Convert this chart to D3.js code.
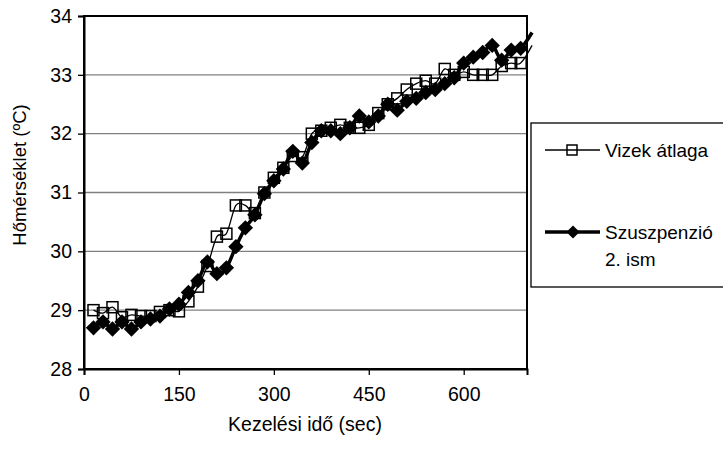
<!DOCTYPE html>
<html>
<head>
<meta charset="utf-8">
<script src="https://cdn.jsdelivr.net/npm/d3@7"></script>
<style>
  html, body { margin: 0; padding: 0; background: #fff; }
  svg { display: block; font-family: "Liberation Sans", Arial, sans-serif; }
</style>
</head>
<body>
<svg id="chart" width="723" height="450"></svg>
<script>
// Measurement times (sec)
const times = [15, 30, 45, 60, 75, 90, 105, 120, 135, 150, 165, 180, 195, 210, 225, 240,
  255, 270, 285, 300, 315, 330, 345, 360, 375, 390, 405, 420, 435, 450, 465, 480,
  495, 510, 525, 540, 555, 570, 585, 600, 615, 630, 645, 660, 675, 690, 708];

// Average of the water samples (°C)
const vizekAtlaga = [29.0, 28.95, 29.05, 28.88, 28.92, 28.9, 28.9, 28.97, 29.0, 28.98,
  29.15, 29.4, 29.75, 30.25, 30.3, 30.78, 30.78, 30.65, 31.0, 31.25, 31.42, 31.62,
  31.6, 32.0, 32.05, 32.1, 32.15, 32.1, 32.1, 32.15, 32.35, 32.5, 32.6, 32.75, 32.85,
  32.9, 32.85, 33.1, 33.0, 33.05, 33.0, 33.0, 33.0, 33.15, 33.2, 33.2, 33.5];

// Suspension, 2nd repetition (°C)
const szuszpenzio = [28.7, 28.8, 28.68, 28.8, 28.68, 28.8, 28.85, 28.9, 29.02, 29.1,
  29.3, 29.5, 29.82, 29.62, 29.72, 30.08, 30.4, 30.62, 30.98, 31.2, 31.4, 31.7,
  31.5, 31.85, 32.05, 32.05, 32.0, 32.1, 32.3, 32.2, 32.3, 32.5, 32.4, 32.55, 32.6,
  32.7, 32.75, 32.85, 32.95, 33.2, 33.3, 33.38, 33.5, 33.25, 33.42, 33.45, 33.72];

const xTicks = [0, 150, 300, 450, 600];
const yTicks = [28, 29, 30, 31, 32, 33, 34];
const seriesNames = ["Vizek átlaga", ["Szuszpenzió", "2. ism"]];
const xTitle = "Kezelési idő (sec)";
const yTitle = "Hőmérséklet (ºC)";

const svg = d3.select("#chart");
const plot = { left: 84, top: 16, right: 527, bottom: 369 };
const FONT = "'Liberation Sans', Arial, sans-serif";

const x = d3.scaleLinear().domain([0, 700]).range([plot.left, plot.right]);
const y = d3.scaleLinear().domain([28, 34]).range([plot.bottom, plot.top]);

// Horizontal gridlines
svg.append("g")
  .selectAll("line")
  .data(yTicks.filter(v => v > 28 && v < 34))
  .join("line")
  .attr("x1", plot.left).attr("x2", plot.right)
  .attr("y1", d => y(d)).attr("y2", d => y(d))
  .attr("stroke", "#808080").attr("stroke-width", 1.3);

// Plot frame
svg.append("rect")
  .attr("x", plot.left).attr("y", plot.top)
  .attr("width", plot.right - plot.left).attr("height", plot.bottom - plot.top)
  .attr("fill", "none").attr("stroke", "#000").attr("stroke-width", 2);

// Axes
const yAxis = d3.axisLeft(y).tickValues(yTicks).tickSize(6).tickPadding(6).tickFormat(d3.format("d"));
const xAxis = d3.axisBottom(x).tickValues(xTicks).tickSize(6).tickPadding(12).tickFormat(d3.format("d"));

const gy = svg.append("g").attr("transform", `translate(${plot.left},0)`).call(yAxis);
const gx = svg.append("g").attr("transform", `translate(0,${plot.bottom})`).call(xAxis);
[gx, gy].forEach(g => {
  g.attr("font-size", 19.5).attr("font-family", FONT);
  g.select(".domain").attr("stroke", "#000").attr("stroke-width", 2);
  g.selectAll(".tick line").attr("stroke", "#000").attr("stroke-width", 1.3);
  g.selectAll(".tick text").attr("fill", "#000");
});

// Axis titles
svg.append("text")
  .attr("x", 305).attr("y", 431)
  .attr("text-anchor", "middle").attr("font-size", 19.5).text(xTitle);
svg.append("text")
  .attr("transform", "translate(26,175) rotate(-90)")
  .attr("text-anchor", "middle").attr("font-size", 18.5).text(yTitle);

// Series
svg.append("defs").append("clipPath").attr("id", "plotClip")
  .append("rect").attr("x", plot.left - 10).attr("y", 0)
  .attr("width", plot.right - plot.left + 20).attr("height", plot.bottom + 5);

const line = d3.line().x(d => x(d[0])).y(d => y(d[1])).curve(d3.curveCardinal.tension(0));
const ptsA = times.map((t, i) => [t, vizekAtlaga[i]]);
const ptsB = times.map((t, i) => [t, szuszpenzio[i]]);
const inside = d => d[0] <= 700;

const layer = svg.append("g").attr("clip-path", "url(#plotClip)");

const diamond = d3.symbol().type(d3.symbolDiamond2).size(150);

// Suspension: thick line with filled diamonds
layer.append("path").datum(ptsB)
  .attr("d", line).attr("fill", "none").attr("stroke", "#000").attr("stroke-width", 3.5);
layer.append("g").selectAll("path")
  .data(ptsB.filter(inside))
  .join("path")
  .attr("transform", d => `translate(${x(d[0])},${y(d[1])})`)
  .attr("d", diamond).attr("fill", "#000");

// Water average: thin line with open squares
layer.append("path").datum(ptsA)
  .attr("d", line).attr("fill", "none").attr("stroke", "#000").attr("stroke-width", 1.3);
layer.append("g").selectAll("rect")
  .data(ptsA.filter(inside))
  .join("rect")
  .attr("x", d => x(d[0]) - 5.5).attr("y", d => y(d[1]) - 5.5)
  .attr("width", 11).attr("height", 11)
  .attr("fill", "none").attr("stroke", "#000").attr("stroke-width", 1.5);

// Legend
const lg = svg.append("g").attr("font-size", 19);
lg.append("rect").attr("x", 531).attr("y", 123).attr("width", 200).attr("height", 164)
  .attr("fill", "#fff").attr("stroke", "#000").attr("stroke-width", 1.3);

lg.append("line").attr("x1", 545).attr("x2", 600).attr("y1", 150).attr("y2", 150)
  .attr("stroke", "#000").attr("stroke-width", 1.3);
lg.append("rect").attr("x", 567).attr("y", 145).attr("width", 10).attr("height", 10)
  .attr("fill", "none").attr("stroke", "#000").attr("stroke-width", 1.5);
lg.append("text").attr("x", 605).attr("y", 157).text(seriesNames[0]);

lg.append("line").attr("x1", 545).attr("x2", 600).attr("y1", 232).attr("y2", 232)
  .attr("stroke", "#000").attr("stroke-width", 3.5);
lg.append("path").attr("transform", "translate(573,232)")
  .attr("d", d3.symbol().type(d3.symbolDiamond2).size(110)).attr("fill", "#000");
lg.append("text").attr("x", 605).attr("y", 239).text(seriesNames[1][0]);
lg.append("text").attr("x", 605).attr("y", 266).text(seriesNames[1][1]);
</script>
</body>
</html>
